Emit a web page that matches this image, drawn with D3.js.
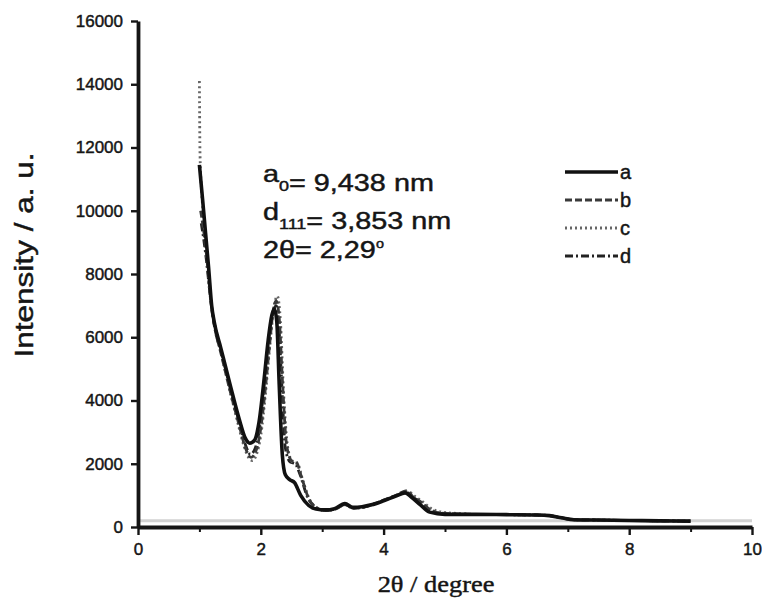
<!DOCTYPE html>
<html><head><meta charset="utf-8">
<script src="https://cdn.jsdelivr.net/npm/d3@7"></script>
<style>html,body{margin:0;padding:0;background:#fff} text{stroke:#151515;stroke-width:0.45px}</style>
</head><body><svg id="c" width="762" height="604"></svg>
<script>
// ---- data ----
const xTickValues = [0, 2, 4, 6, 8, 10];
const xMinorTicks = [1, 3, 5, 7, 9];
const yTickValues = [0, 2000, 4000, 6000, 8000, 10000, 12000, 14000, 16000];
const seriesNames = ["a", "b", "c", "d"];
const baselineValue = 200;

const aX = [1.00,1.05,1.10,1.15,1.20,1.24,1.35,1.50,1.65,1.75,1.82,1.90,1.97,2.05,2.12,2.18,2.22,2.26,2.30,2.35,2.40,2.47,2.55,2.65,2.78,2.90,3.05,3.20,3.37,3.50,3.65,3.80,4.00,4.20,4.35,4.45,4.60,4.75,5.00,5.50,6.00,6.50,6.70,6.90,7.10,7.50,8.00,8.50,9.00];
const aY = [11450,10400,9300,8200,7000,6500,5650,4500,3400,2800,2650,2750,3300,4600,5900,6700,6900,6500,4500,2300,1650,1500,1400,1000,680,570,540,580,740,620,640,700,830,980,1080,950,700,470,400,400,390,380,360,290,230,220,205,195,185];

const bX = [1.02,1.06,1.10,1.15,1.20,1.25,1.35,1.50,1.65,1.75,1.84,1.92,1.99,2.07,2.14,2.20,2.25,2.30,2.35,2.42,2.50,2.58,2.66,2.78,2.90,3.05,3.20,3.37,3.50,3.65,3.80,4.00,4.20,4.38,4.48,4.60,4.75,4.90,5.10,5.50,6.00,6.50,6.70,6.90,7.10,7.50,8.00,8.50,9.00];
const bY = [10000,9500,8900,7900,6900,6300,5500,4300,3200,2500,2200,2400,3000,4300,5700,6800,7150,6600,4700,2600,2100,2050,1600,900,620,520,560,720,600,620,700,850,1000,1150,950,800,560,450,420,400,390,380,360,290,230,220,205,195,185];

const cX = [1.00,1.01,1.04,1.08,1.12,1.17,1.22,1.30,1.45,1.60,1.72,1.80,1.86,1.93,2.00,2.08,2.15,2.21,2.27,2.32,2.37,2.44,2.52,2.60,2.68,2.80,2.92,3.05,3.20,3.37,3.50,3.65,3.80,4.00,4.20,4.40,4.50,4.62,4.78,4.95,5.20,5.50,6.00,6.50,6.70,6.90,7.10,7.50,8.00,8.50,9.00];
const cY = [14100,11800,10500,9600,8600,7400,6700,6000,4700,3500,2600,2200,2100,2300,2900,4300,5800,6900,7300,6500,4300,2500,2050,2000,1500,850,600,520,560,700,590,610,690,840,990,1120,980,820,580,470,430,400,390,380,360,290,230,220,205,195,185];

const dX = [1.03,1.07,1.11,1.16,1.21,1.26,1.36,1.50,1.65,1.75,1.83,1.90,1.97,2.05,2.12,2.19,2.25,2.29,2.34,2.40,2.48,2.56,2.64,2.76,2.88,3.02,3.20,3.37,3.50,3.65,3.80,4.00,4.20,4.37,4.47,4.60,4.75,4.90,5.10,5.50,6.00,6.50,6.70,6.90,7.10,7.50,8.00,8.50,9.00];
const dY = [9600,9100,8500,7600,6800,6200,5500,4400,3300,2600,2300,2450,3000,4400,5800,6700,7000,6500,4600,2500,2050,2000,1650,950,640,530,560,710,600,620,700,840,990,1100,950,780,540,440,410,400,390,380,360,290,230,220,205,195,185];

const annotationLines = [
  [["a", false], ["0", true], ["= 9,438 nm", false]],
  [["d", false], ["111", true], ["= 3,853 nm", false]],
  [["2θ= 2,29", false], ["o", "sup"]]
];
const xTitle = "2θ / degree";
const yTitle = "Intensity / a. u.";

// ---- layout ----
const svg = d3.select("#c");
const x = d3.scaleLinear().domain([0, 10]).range([138, 752]);
const y = d3.scaleLinear().domain([0, 16000]).range([527, 21]);
const sans = "'Liberation Sans', Arial, sans-serif";
const serif = "'Liberation Serif', 'Times New Roman', serif";
const ink = "#151515";

const styles = {
  a: {stroke: "#111", width: 3.6, dash: null},
  b: {stroke: "#3a3a3a", width: 2.8, dash: "7,3"},
  c: {stroke: "#666", width: 2.8, dash: "2,3"},
  d: {stroke: "#222", width: 2.8, dash: "8,3,2,3"}
};
const seriesData = {
  a: aX.map((v, i) => [v, aY[i]]),
  b: bX.map((v, i) => [v, bY[i]]),
  c: cX.map((v, i) => [v, cY[i]]),
  d: dX.map((v, i) => [v, dY[i]])
};

// faint baseline band above x-axis
svg.append("line")
  .attr("x1", x(0)).attr("x2", x(10))
  .attr("y1", y(baselineValue)).attr("y2", y(baselineValue))
  .attr("stroke", "#d2d2d2").attr("stroke-width", 3);

// lines
const line = d3.line().x(d => x(d[0])).y(d => y(d[1])).curve(d3.curveMonotoneX);
["d", "c", "b", "a"].forEach(k => {
  const s = styles[k];
  svg.append("path").datum(seriesData[k])
    .attr("d", line).attr("fill", "none")
    .attr("stroke", s.stroke).attr("stroke-width", s.width)
    .attr("stroke-linejoin", "round")
    .attr("stroke-dasharray", s.dash);
});

// axes
const xAxis = svg.append("g").attr("transform", `translate(0,${y(0)})`)
  .call(d3.axisBottom(x).tickValues(xTickValues).tickFormat(d3.format("d"))
    .tickSize(8).tickPadding(8).tickSizeOuter(0));
const xMinorG = svg.append("g").attr("transform", `translate(0,${y(0)})`)
  .call(d3.axisBottom(x).tickValues(xMinorTicks).tickFormat("").tickSize(5).tickSizeOuter(0));
xMinorG.select(".domain").remove();
xMinorG.selectAll("line").attr("stroke", ink).attr("stroke-width", 2);

const yAxis = svg.append("g").attr("transform", `translate(${x(0)},0)`)
  .call(d3.axisLeft(y).tickValues(yTickValues).tickFormat(d3.format("d"))
    .tickSize(7).tickPadding(8).tickSizeOuter(0));

[xAxis, yAxis].forEach(g => {
  g.select(".domain").attr("stroke", ink).attr("stroke-width", 3.8);
  g.selectAll(".tick line").attr("stroke", ink).attr("stroke-width", 2.4);
  g.selectAll(".tick text").attr("fill", ink).style("font-family", sans).style("font-size", "17px");
});

// axis titles
svg.append("text")
  .attr("transform", `translate(436,592) scale(1.1,1)`)
  .attr("text-anchor", "middle").attr("fill", ink)
  .style("font-family", serif).style("font-size", "24px")
  .text(xTitle);
svg.append("text")
  .attr("transform", `translate(33,255) rotate(-90)`)
  .attr("text-anchor", "middle").attr("fill", ink)
  .attr("textLength", 205).attr("lengthAdjust", "spacingAndGlyphs")
  .style("font-family", sans).style("font-size", "26px")
  .text(yTitle);

// annotations
const ann = svg.append("g").attr("transform", "translate(263,0) scale(1.2,1)");
const annBase = [182, 220, 258];
annotationLines.forEach((parts, i) => {
  const t = ann.append("text").attr("x", 0).attr("y", annBase[i]).attr("fill", ink)
    .style("font-family", sans).style("font-size", "24px");
  parts.forEach(([txt, sub]) => {
    if (sub === true) {
      t.append("tspan").attr("dy", 9).style("font-size", "15px").text(txt);
      t.append("tspan").attr("dy", -9).text("");
    } else if (sub === "sup") {
      t.append("tspan").attr("dy", -10).style("font-size", "12px").text(txt);
    } else {
      t.append("tspan").text(txt);
    }
  });
});

// legend
const legendY = d3.scalePoint().domain(seriesNames).range([172, 256]);
const leg = svg.append("g");
seriesNames.forEach(k => {
  const s = styles[k];
  leg.append("line").attr("x1", 565).attr("x2", 618)
    .attr("y1", legendY(k)).attr("y2", legendY(k))
    .attr("stroke", s.stroke).attr("stroke-width", s.width)
    .attr("stroke-dasharray", s.dash);
  leg.append("text").attr("x", 620).attr("y", legendY(k)).attr("dy", "0.36em")
    .attr("fill", ink).style("font-family", sans).style("font-size", "20px").text(k);
});
</script></body></html>
